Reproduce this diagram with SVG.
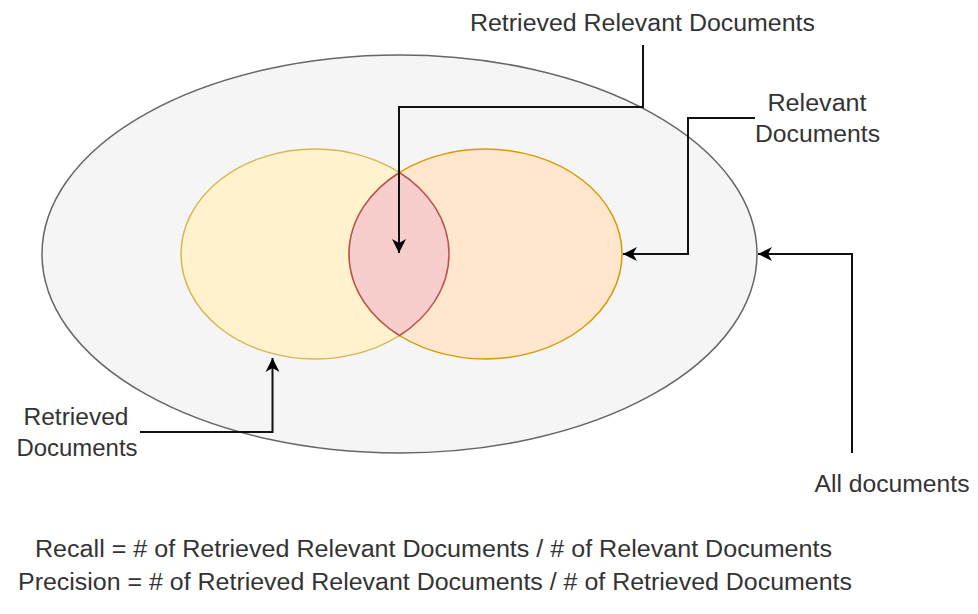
<svg xmlns="http://www.w3.org/2000/svg" width="978" height="614" viewBox="0 0 978 614">
<style>
text{font-family:"Liberation Sans",Arial,sans-serif;font-size:23px;fill:#333333;}
.lbl{text-anchor:middle;}
.conn{fill:none;stroke:#111111;stroke-width:2;marker-end:url(#arr);}
</style>
<defs>
<marker id="arr" markerUnits="userSpaceOnUse" viewBox="-15 -8 16 16" markerWidth="16" markerHeight="16" refX="0" refY="0" orient="auto">
<path d="M0,0 L-14,-7 L-10,0 L-14,7 Z" fill="#000000"/>
</marker>
</defs>
<rect width="978" height="614" fill="#ffffff"/>
<g id="all-documents">
<ellipse cx="399.5" cy="254" rx="357.5" ry="199" fill="#f5f5f5" stroke="#666666" stroke-width="1.5"/>
</g>
<g id="retrieved-documents">
<ellipse cx="315" cy="254" rx="134" ry="105" fill="#fff2cc" stroke="#d6b656" stroke-width="1.5"/>
</g>
<g id="relevant-documents">
<ellipse cx="485.5" cy="254" rx="136.5" ry="105" fill="#ffe6cc" stroke="#d79b00" stroke-width="1.5"/>
</g>
<g id="retrieved-relevant">
<path d="M399.5,172.5 A134,105 0 0 1 399.5,335.5 A136.5,105 0 0 1 399.5,172.5 Z" fill="#f8cecc" stroke="#b85450" stroke-width="1.5"/>
</g>
<g id="connectors">
<path class="conn" d="M643,45 L643,107 L399,107 L399,253"/>
<path class="conn" d="M755,118 L688,118 L688,254 L623,254"/>
<path class="conn" d="M140,432 L272.5,432 L272.5,358"/>
<path class="conn" d="M852,453 L852,254 L758,254"/>
</g>
<g id="labels">
<text class="lbl" x="642.5" y="31" textLength="345" lengthAdjust="spacingAndGlyphs">Retrieved Relevant Documents</text>
<text class="lbl" x="817" y="111" textLength="99" lengthAdjust="spacingAndGlyphs">Relevant</text>
<text class="lbl" x="817.5" y="142" textLength="125" lengthAdjust="spacingAndGlyphs">Documents</text>
<text class="lbl" x="76" y="425" textLength="105" lengthAdjust="spacingAndGlyphs">Retrieved</text>
<text class="lbl" x="77" y="456" textLength="121" lengthAdjust="spacingAndGlyphs">Documents</text>
<text class="lbl" x="892" y="492" textLength="155" lengthAdjust="spacingAndGlyphs">All documents</text>
</g>
<g id="formulas">
<text x="35" y="557" textLength="797" lengthAdjust="spacingAndGlyphs">Recall = # of Retrieved Relevant Documents / # of Relevant Documents</text>
<text x="18" y="590" textLength="834" lengthAdjust="spacingAndGlyphs">Precision = # of Retrieved Relevant Documents / # of Retrieved Documents</text>
</g>
</svg>
